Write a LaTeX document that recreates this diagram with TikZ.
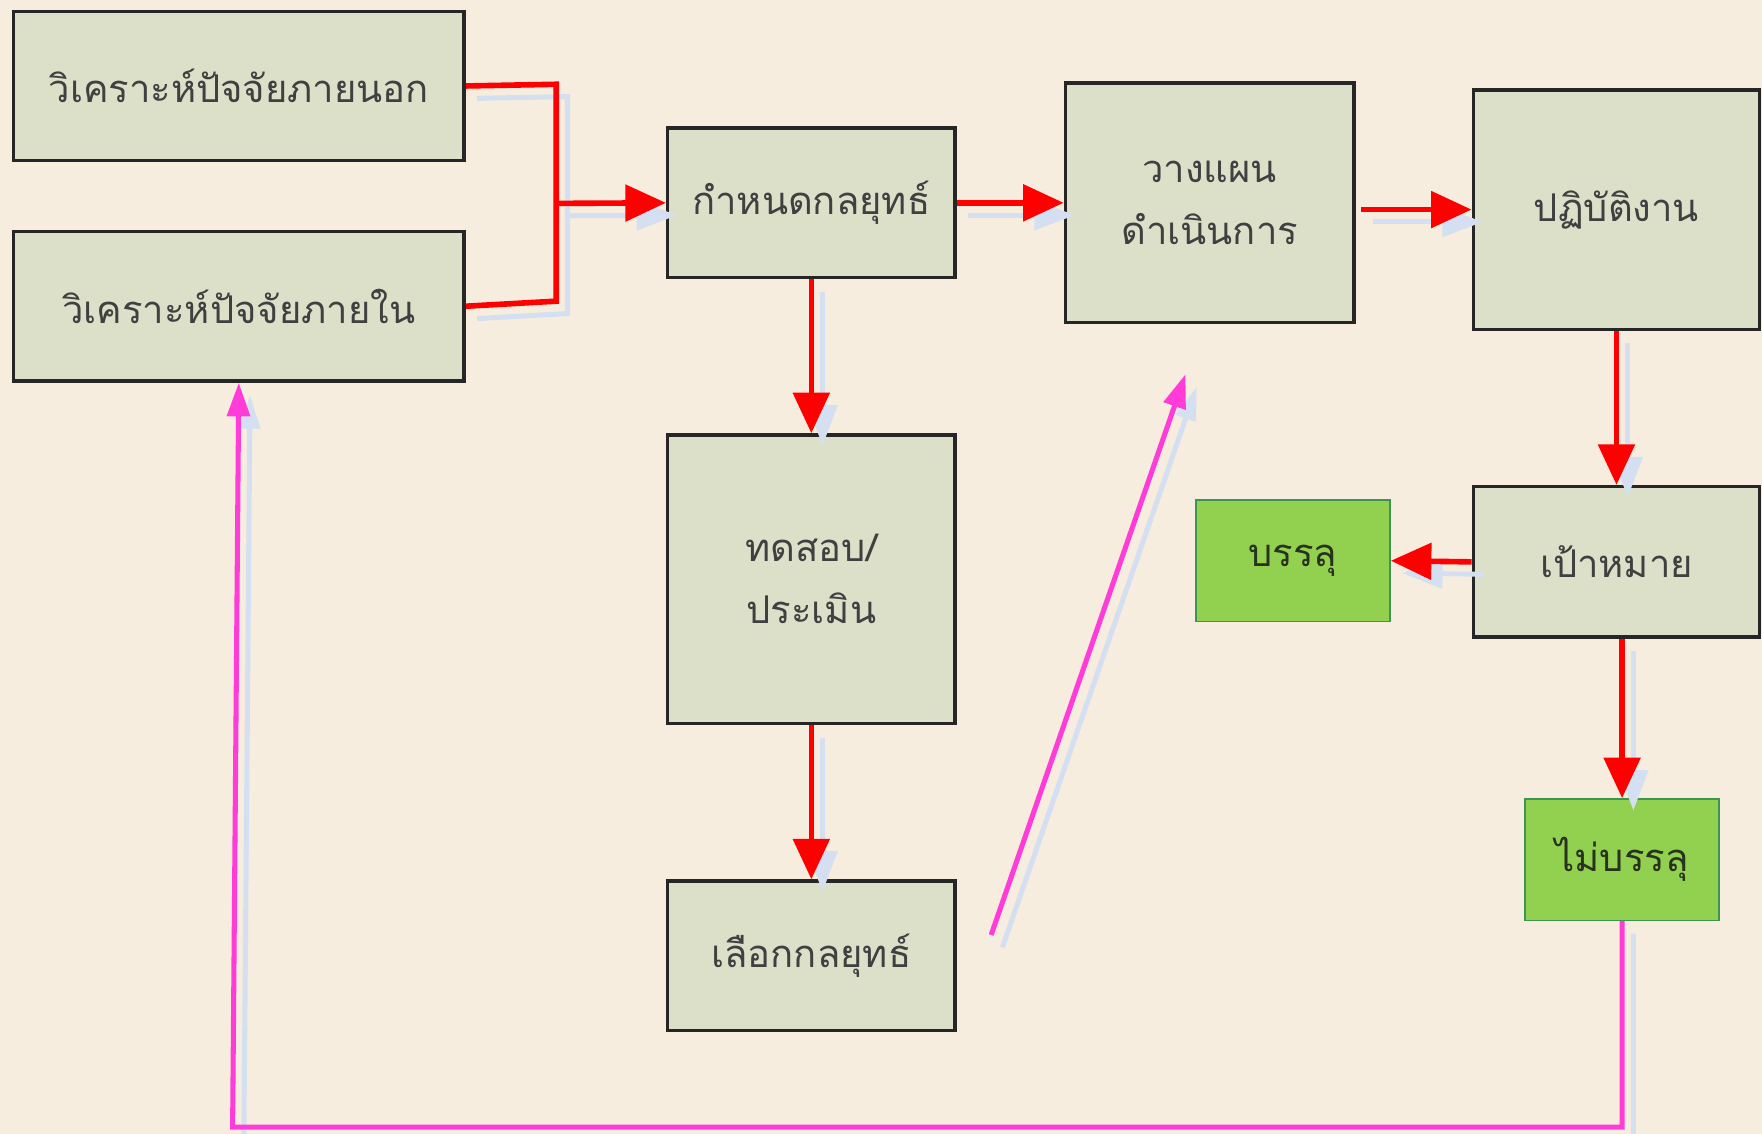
\documentclass[tikz,border=0pt]{standalone}
\usepackage{fontspec}
\newfontfamily\thaifont[Script=Thai]{Loma}
\usetikzlibrary{arrows.meta}
\definecolor{bgbeige}{RGB}{247,237,222}
\definecolor{boxfill}{RGB}{221,224,201}
\definecolor{greenfill}{RGB}{146,208,80}
\definecolor{greenedge}{RGB}{60,150,80}
\definecolor{txtgray}{RGB}{64,64,64}
\definecolor{greentxt}{RGB}{40,50,30}
\definecolor{arrred}{RGB}{255,0,0}
\definecolor{magenta2}{RGB}{255,60,216}
\definecolor{shadowblue}{RGB}{212,224,242}
\tikzset{
  box/.style={draw=black!85, line width=3pt, fill=boxfill, text=txtgray,
    font=\thaifont\fontsize{34}{55}\selectfont, align=center, inner sep=0pt},
  greenbox/.style={box, draw=greenedge, line width=1.5pt, fill=greenfill, text=greentxt},
  redln/.style={draw=arrred, line width=5pt},
  redarr/.style={redln, -{Triangle[length=36pt,width=32pt]}},
  magln/.style={draw=magenta2, line width=4.5pt},
  magarr/.style={magln, -{Triangle[length=30pt,width=20pt]}},
  shln/.style={draw=shadowblue, line width=4.5pt},
}
\newcommand{\drawconnectors}{%
  \draw[redln] (b1.east) -- (jt) -- (jb) -- (b2.east);
  \draw[redarr] (jm) -- (b3.west);
  \draw[redarr] (b3.east) -- (b4.west);
  \draw[redarr] ([xshift=5pt]b4.east |- b5.west) -- (b5.west);
  \draw[redarr] (b3.south) -- (b6.north);
  \draw[redarr] (b6.south) -- (b7.north);
  \draw[redarr] (b5.south) -- (b8.north);
  \draw[redarr] (b8.west) -- (b9.east);
  \draw[redarr] (b10.north |- b8.south) -- (b10.north);
  \draw[magarr] (b10.south) -- (mr) -- (ml) -- (b2.south);
  \draw[magarr] (fa) -- (fb);
}
\begin{document}
\begin{tikzpicture}[x=1pt,y=-1pt]
\fill[bgbeige] (0,0) rectangle (1568,1009);
\useasboundingbox (0,0) rectangle (1568,1009);

\node[box, minimum width=401pt, minimum height=133pt] (b1) at (212.5,76.5) {วิเคราะห์ปัจจัยภายนอก};
\node[box, minimum width=401pt, minimum height=133pt] (b2) at (212.5,272.5) {วิเคราะห์ปัจจัยภายใน};
\node[box, minimum width=256pt, minimum height=133pt] (b3) at (722,180.5) {กำหนดกลยุทธ์};
\node[box, minimum width=257pt, minimum height=213pt] (b4) at (1076.5,180.5) {วางแผน\\ดำเนินการ};
\node[box, minimum width=255pt, minimum height=213pt] (b5) at (1438.5,186.5) {ปฏิบัติงาน};
\node[box, minimum width=256pt, minimum height=257pt] (b6) at (722,515.5) {ทดสอบ/\\ประเมิน};
\node[box, minimum width=256pt, minimum height=133pt] (b7) at (722,850.5) {เลือกกลยุทธ์};
\node[box, minimum width=255pt, minimum height=134pt] (b8) at (1438.5,500) {เป้าหมาย};
\node[greenbox, minimum width=173pt, minimum height=108pt] (b9) at (1150.5,499) {บรรลุ};
\node[greenbox, minimum width=173pt, minimum height=108pt] (b10) at (1443.5,765) {ไม่บรรลุ};

\coordinate (jt) at (495,75);
\coordinate (jb) at (495,268);
\coordinate (jm) at (495,181);
\coordinate (mr) at (1443.5,1003);
\coordinate (ml) at (207,1003);
\coordinate (fa) at (882,832);
\coordinate (fb) at (1055,333);

\begin{scope}[transform canvas={shift={(10,11)}},
  redln/.style={shln}, redarr/.style={shln,-{Triangle[length=36pt,width=26pt]}},
  magln/.style={shln}, magarr/.style={shln,-{Triangle[length=30pt,width=18pt]}}]
  \drawconnectors
\end{scope}
\drawconnectors
\end{tikzpicture}
\end{document}
